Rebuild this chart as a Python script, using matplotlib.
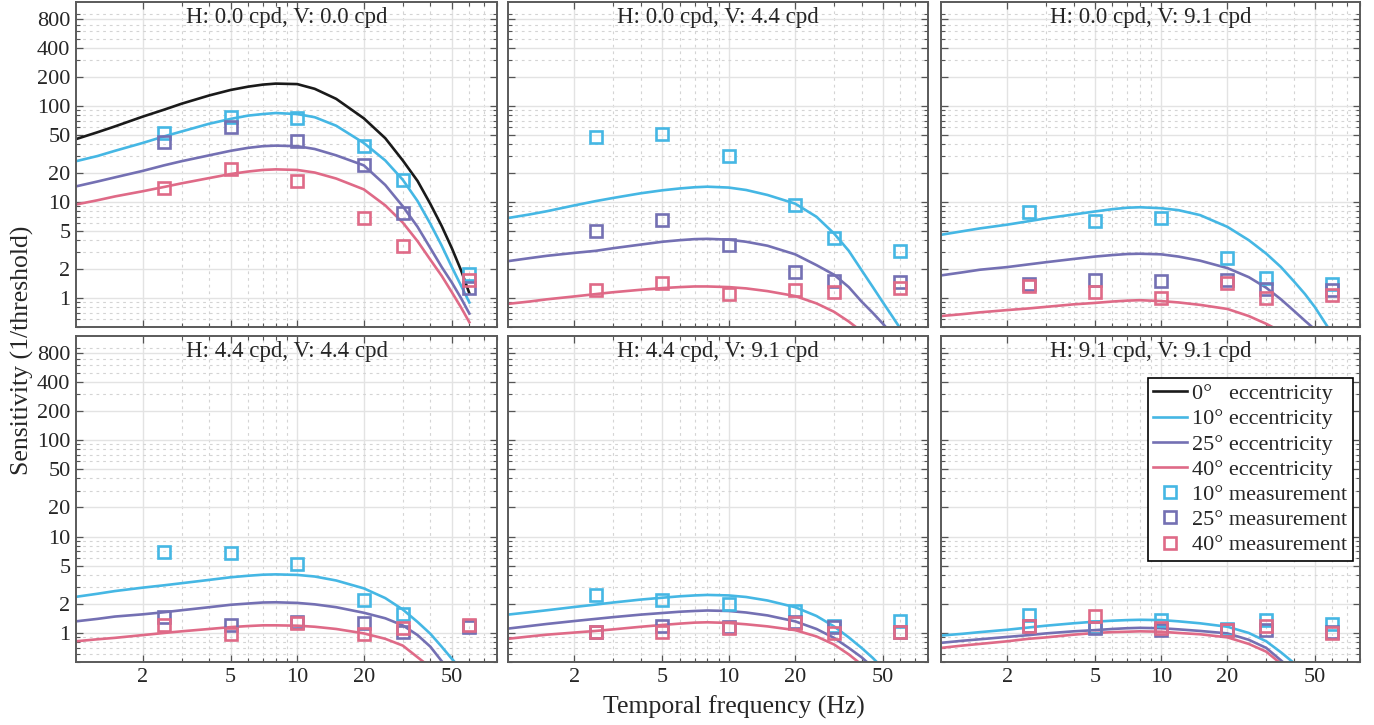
import matplotlib.pyplot as plt
from matplotlib.lines import Line2D
from matplotlib.ticker import LogLocator, NullFormatter

plt.rcParams['font.family'] = ['Liberation Serif', 'DejaVu Serif']

titles = ['H: 0.0 cpd, V: 0.0 cpd', 'H: 0.0 cpd, V: 4.4 cpd', 'H: 0.0 cpd, V: 9.1 cpd',
          'H: 4.4 cpd, V: 4.4 cpd', 'H: 4.4 cpd, V: 9.1 cpd', 'H: 9.1 cpd, V: 9.1 cpd']

# model curves, sampled at freq_fit (Hz)
freq_fit = [1, 1.25, 1.5, 2, 2.5, 3, 4, 5, 6, 7, 8, 10, 12, 15, 20, 25, 30, 35, 40, 45, 50, 55, 60]

# 0 deg eccentricity only exists for the first panel
fit0 = [45, 53, 61, 77, 91, 105, 128, 146, 158, 166, 170, 168, 150, 118, 74, 46, 27, 16.5, 9.5, 5.6, 3.3, 1.95, 1.12]

fit10 = [
    [26.5, 30, 34, 41, 48, 54, 65, 73, 79, 82, 84, 82, 76, 62, 41, 27, 17, 10.2, 5.9, 3.5, 2.1, 1.35, 0.9],
    [6.8, 7.4, 8.0, 9.2, 10.2, 11.0, 12.3, 13.2, 13.8, 14.2, 14.4, 14.1, 13.3, 11.8, 9.6, 7.0, 4.7, 3.1, 1.95, 1.3, 0.9, 0.65, 0.48],
    [4.55, 4.95, 5.3, 5.8, 6.3, 6.75, 7.4, 7.95, 8.4, 8.7, 8.8, 8.6, 8.2, 7.3, 5.5, 4.0, 2.9, 2.1, 1.5, 1.1, 0.8, 0.57, 0.42],
    [2.37, 2.55, 2.72, 2.95, 3.12, 3.28, 3.55, 3.78, 3.92, 4.02, 4.05, 4.0, 3.85, 3.5, 2.9, 2.3, 1.75, 1.3, 0.98, 0.72, 0.54, 0.42, 0.33],
    [1.55, 1.64, 1.72, 1.86, 1.97, 2.07, 2.22, 2.32, 2.4, 2.45, 2.48, 2.45, 2.36, 2.17, 1.85, 1.5, 1.17, 0.9, 0.7, 0.55, 0.43, 0.34, 0.27],
    [0.94, 0.98, 1.02, 1.08, 1.14, 1.19, 1.26, 1.31, 1.34, 1.36, 1.37, 1.36, 1.32, 1.26, 1.16, 1.0, 0.82, 0.63, 0.49, 0.38, 0.3, 0.24, 0.19],
]
fit25 = [
    [14.5, 16.3, 18, 21, 24, 26.5, 30.5, 34, 36.5, 38, 38.5, 38, 35.5, 30.5, 24, 15, 9, 5.5, 3.3, 2.1, 1.45, 1.0, 0.69],
    [2.42, 2.6, 2.75, 2.95, 3.1, 3.3, 3.6, 3.85, 4.0, 4.1, 4.13, 4.05, 3.85, 3.5, 2.85, 2.2, 1.75, 1.3, 0.92, 0.7, 0.54, 0.42, 0.33],
    [1.72, 1.85, 1.97, 2.1, 2.24, 2.36, 2.55, 2.7, 2.8, 2.87, 2.89, 2.85, 2.7, 2.45, 2.05, 1.65, 1.28, 0.97, 0.74, 0.58, 0.47, 0.37, 0.3],
    [1.32, 1.4, 1.48, 1.56, 1.64, 1.72, 1.85, 1.96, 2.02, 2.07, 2.08, 2.05, 1.98, 1.85, 1.62, 1.42, 1.2, 0.95, 0.72, 0.51, 0.38, 0.29, 0.22],
    [1.11, 1.18, 1.24, 1.33, 1.4, 1.46, 1.55, 1.61, 1.66, 1.69, 1.71, 1.69, 1.63, 1.52, 1.32, 1.1, 0.89, 0.7, 0.56, 0.44, 0.35, 0.28, 0.22],
    [0.79, 0.83, 0.86, 0.91, 0.95, 0.99, 1.04, 1.07, 1.1, 1.12, 1.13, 1.12, 1.09, 1.05, 0.99, 0.85, 0.7, 0.52, 0.4, 0.31, 0.25, 0.2, 0.16],
]
fit40 = [
    [9.4, 10.4, 11.4, 12.9, 14.3, 15.6, 17.7, 19.5, 20.7, 21.5, 21.8, 21.5, 20.2, 17.5, 13.5, 9.2, 6.1, 3.9, 2.5, 1.7, 1.15, 0.8, 0.56],
    [0.87, 0.92, 0.97, 1.04, 1.1, 1.15, 1.22, 1.27, 1.3, 1.32, 1.32, 1.3, 1.26, 1.18, 1.05, 0.88, 0.72, 0.57, 0.45, 0.36, 0.29, 0.23, 0.19],
    [0.65, 0.68, 0.71, 0.75, 0.78, 0.81, 0.86, 0.89, 0.92, 0.94, 0.95, 0.93, 0.9, 0.85, 0.77, 0.65, 0.54, 0.45, 0.37, 0.3, 0.24, 0.19, 0.15],
    [0.82, 0.86, 0.89, 0.95, 1.0, 1.04, 1.1, 1.15, 1.18, 1.2, 1.2, 1.19, 1.16, 1.1, 0.99, 0.87, 0.74, 0.56, 0.44, 0.34, 0.27, 0.21, 0.17],
    [0.87, 0.92, 0.96, 1.01, 1.05, 1.09, 1.16, 1.21, 1.25, 1.28, 1.29, 1.27, 1.23, 1.17, 1.07, 0.92, 0.76, 0.6, 0.47, 0.37, 0.3, 0.24, 0.19],
    [0.7, 0.74, 0.77, 0.82, 0.87, 0.9, 0.96, 1.0, 1.02, 1.03, 1.04, 1.03, 1.0, 0.97, 0.9, 0.77, 0.64, 0.48, 0.37, 0.29, 0.23, 0.18, 0.14],
]

# measured sensitivities
freq_meas = [2.5, 5, 10, 20, 30, 60]
meas10 = [
    [52, 75.7, 74, 38, 16.7, 1.78],
    [46.9, 50.4, 30.3, 9.3, 4.2, 3.1],
    [7.8, 6.4, 6.8, 2.58, 1.63, 1.41],
    [6.9, 6.67, 5.25, 2.18, 1.56, 1.17],
    [2.48, 2.18, 2.02, 1.68, 1.17, 1.32],
    [1.52, 1.15, 1.37, 1.1, 1.37, 1.24],
]
meas25 = [
    [41.6, 59.6, 42.6, 24, 7.7, 1.27],
    [5.04, 6.55, 3.58, 1.86, 1.52, 1.48],
    [1.41, 1.55, 1.5, 1.53, 1.23, 1.22],
    [1.45, 1.2, 1.3, 1.27, 1.03, 1.15],
    [1.02, 1.17, 1.15, 1.29, 1.15, 1.02],
    [1.17, 1.13, 1.08, 1.08, 1.08, 1.02],
]
meas40 = [
    [13.9, 21.8, 16.6, 6.8, 3.5, 1.55],
    [1.2, 1.43, 1.11, 1.2, 1.15, 1.26],
    [1.33, 1.15, 1.01, 1.43, 1.0, 1.07],
    [1.22, 0.98, 1.27, 0.98, 1.13, 1.2],
    [1.02, 1.02, 1.13, 1.27, 1.0, 1.02],
    [1.17, 1.49, 1.13, 1.08, 1.17, 1.0],
]

c_black = '#1a1a1a'
c_cyan = '#45b7e4'
c_purple = '#7470b3'
c_pink = '#df6a87'

xticks = [2, 5, 10, 20, 50]
yticks = [1, 2, 5, 10, 20, 50, 100, 200, 400, 800]

fig = plt.figure(figsize=(13.74, 7.25), dpi=100)

W, H = 1374.0, 725.0
lefts = [76, 508, 941]
widths = [421, 420, 419]
rows = [(2, 327), (336, 662)]

lw = 1.9
ms = 8.5
mew = 1.9

axes = []
for i in range(6):
    r, c = divmod(i, 3)
    top, bot = rows[r]
    ax = fig.add_axes([lefts[c] / W, 1 - bot / H, widths[c] / W, (bot - top) / H])
    ax.set_xscale('log')
    ax.set_yscale('log')

    if i == 0:
        ax.plot(freq_fit, fit0, color=c_black, lw=lw)
    ax.plot(freq_fit, fit10[i], color=c_cyan, lw=lw)
    ax.plot(freq_fit, fit25[i], color=c_purple, lw=lw)
    ax.plot(freq_fit, fit40[i], color=c_pink, lw=lw)
    for vals, col in [(meas10[i], c_cyan), (meas25[i], c_purple), (meas40[i], c_pink)]:
        ax.plot(freq_meas, vals, 's', ms=ms, mfc='none', mec=col, mew=mew)

    ax.set_xlim(1, 80)
    ax.set_ylim(0.5, 1200)
    ax.set_xticks(xticks)
    ax.set_yticks(yticks)
    ax.xaxis.set_minor_locator(LogLocator(subs=range(2, 10), numticks=20))
    ax.yaxis.set_minor_locator(LogLocator(subs=range(2, 10), numticks=20))
    ax.xaxis.set_minor_formatter(NullFormatter())
    ax.yaxis.set_minor_formatter(NullFormatter())
    if r == 1:
        ax.set_xticklabels([str(v) for v in xticks])
    else:
        ax.set_xticklabels([])
    if c == 0:
        ax.set_yticklabels([str(v) for v in yticks])
    else:
        ax.set_yticklabels([])

    ax.tick_params(which='both', direction='in', top=True, right=True,
                   colors='#555555', labelcolor='#262626', labelsize=16)
    ax.tick_params(which='major', length=5, width=0.9, pad=4)
    ax.tick_params(which='minor', length=3, width=0.8)
    ax.grid(True, which='major', color='#e3e3e3', lw=1.0, ls='-')
    ax.grid(True, which='minor', color='#d4d4d4', lw=0.8, ls=(0, (2.5, 3.5)))
    ax.set_axisbelow(True)
    for s in ax.spines.values():
        s.set_color('#5a5a5a')
        s.set_linewidth(1.4)

    ax.text(0.5, 0.952, titles[i], transform=ax.transAxes, ha='center', va='center',
            fontsize=16.5, color='#262626')
    axes.append(ax)

handles = [
    Line2D([], [], color=c_black, lw=lw),
    Line2D([], [], color=c_cyan, lw=lw),
    Line2D([], [], color=c_purple, lw=lw),
    Line2D([], [], color=c_pink, lw=lw),
    Line2D([], [], ls='none', marker='s', ms=ms, mfc='none', mec=c_cyan, mew=mew),
    Line2D([], [], ls='none', marker='s', ms=ms, mfc='none', mec=c_purple, mew=mew),
    Line2D([], [], ls='none', marker='s', ms=ms, mfc='none', mec=c_pink, mew=mew),
]
labels = ['0°   eccentricity', '10° eccentricity', '25° eccentricity', '40° eccentricity',
          '10° measurement', '25° measurement', '40° measurement']
leg = axes[5].legend(handles, labels, loc='upper right', bbox_to_anchor=(0.983, 0.871),
                     fontsize=16, frameon=True, fancybox=False, framealpha=1,
                     edgecolor='black', handlelength=1.5, handletextpad=0.25,
                     labelspacing=0.21, borderpad=0.25, borderaxespad=0)
leg.get_frame().set_linewidth(1.2)
for t in leg.get_texts():
    t.set_color('#262626')

fig.text(734 / W, 1 - 707 / H, 'Temporal frequency (Hz)', ha='center', va='center',
         fontsize=18.5, color='#262626')
fig.text(22 / W, 1 - 350 / H, 'Sensitivity (1/threshold)', ha='center', va='center',
         rotation=90, fontsize=18.5, color='#262626')

fig.savefig('out.png', dpi=100)
